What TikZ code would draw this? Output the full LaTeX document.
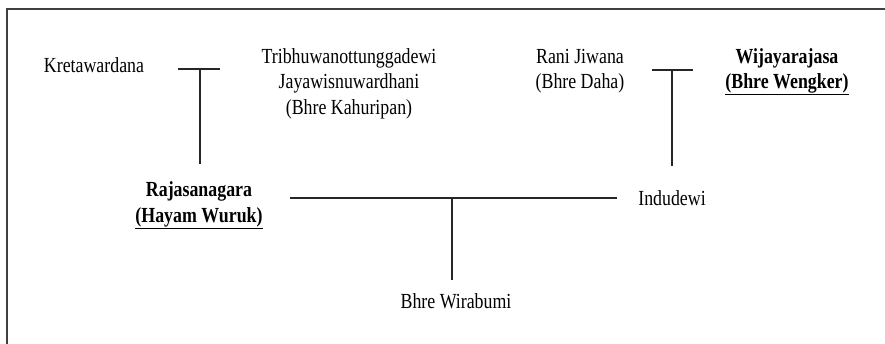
\documentclass[tikz,border=0pt]{standalone}
\usepackage{fontspec}
\setmainfont{Liberation Serif}[FakeStretch=0.83]
\begin{document}
\begin{tikzpicture}[x=1pt,y=-1pt,
  person/.style={anchor=base,inner sep=0pt,align=center,font=\fontsize{21.5}{25.5}\selectfont},
  link/.style={line width=1.4pt,black!85}]
\useasboundingbox (0,0) rectangle (885,343);
% frame
\draw[line width=2pt,black!75] (7,345) -- (7,9) -- (887,9);
% people (base = baseline of the last line)
\node[person] (kreta) at (94,72) {Kretawardana};
\node[person] (tribh) at (349,114) {Tribhuwanottunggadewi\\Jayawisnuwardhani\\(Bhre Kahuripan)};
\node[person] (rani) at (580,88.5) {Rani Jiwana\\(Bhre Daha)};
\node[person] (wija) at (787,88.5) {\textbf{Wijayarajasa}\\\textbf{\underline{(Bhre Wengker)}}};
\node[person] (raja) at (199,222) {\textbf{Rajasanagara}\\\textbf{\underline{(Hayam Wuruk)}}};
\node[person] (indu) at (672,205) {Indudewi};
\node[person] (wira) at (456,308) {Bhre Wirabumi};
% connector points
\coordinate (m1a) at (178,69);
\coordinate (m1b) at (220,69);
\coordinate (m1c) at (200,69);
\coordinate (m1d) at (200,164);
\coordinate (m2a) at (652,70);
\coordinate (m2b) at (693,70);
\coordinate (m2c) at (672,70);
\coordinate (m2d) at (672,166);
\coordinate (m3a) at (290,198);
\coordinate (m3b) at (617,198);
\coordinate (m3c) at (452,198);
\coordinate (m3d) at (452,280);
% connectors
\draw[link] (m1a) -- (m1b);
\draw[link] (m1c) -- (m1d);
\draw[link] (m2a) -- (m2b);
\draw[link] (m2c) -- (m2d);
\draw[link] (m3a) -- (m3b);
\draw[link] (m3c) -- (m3d);
\end{tikzpicture}
\end{document}
